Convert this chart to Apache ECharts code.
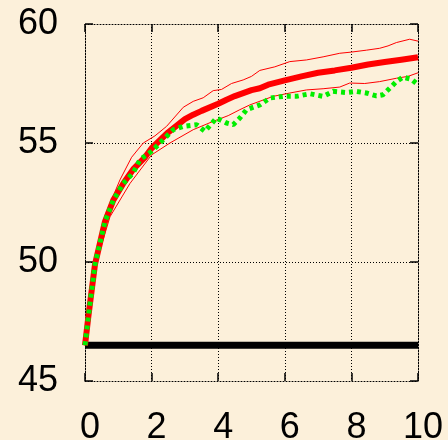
<!DOCTYPE html>
<html><head><meta charset="utf-8">
<script src="https://cdn.jsdelivr.net/npm/echarts@6/dist/echarts.min.js"></script>
<style>html,body{margin:0;padding:0;background:#FCF0DA;}#c{width:448px;height:440px;}</style>
</head><body><div id="c"></div>
<script>
var xTicks = [0, 2, 4, 6, 8, 10];
var yTicks = [45, 50, 55, 60];

var meanX = [0,0.1,0.2,0.3,0.45,0.6,0.85,1.15,1.45,1.8,2.0,2.5,3.0,3.25,3.5,4.0,4.25,4.5,5.0,5.25,5.5,6.0,6.5,7.0,7.5,8.0,8.5,9.0,9.5,10];
var meanY = [46.5,47.7,48.8,49.9,50.8,51.7,52.6,53.3,53.9,54.4,54.78,55.45,56.0,56.19,56.35,56.65,56.82,56.97,57.22,57.3,57.45,57.63,57.8,57.95,58.05,58.16,58.3,58.4,58.5,58.6];

var upperX = [0,0.3,0.6,1.05,1.4,1.75,2.1,2.45,2.95,3.25,3.55,3.85,4.1,4.4,4.75,5.0,5.25,5.7,6.15,6.65,7.15,7.65,8.0,8.45,8.85,9.1,9.35,9.75,10];
var upperY = [46.5,50.0,51.95,53.45,54.4,55.0,55.3,55.7,56.5,56.75,56.9,57.2,57.25,57.5,57.65,57.8,58.05,58.2,58.42,58.49,58.62,58.77,58.82,58.9,58.98,59.08,59.22,59.36,59.28];

var lowerX = [0,0.3,0.75,1.35,2.0,2.55,3.25,3.85,4.3,4.65,4.95,5.65,6.15,6.65,7.15,7.65,7.95,8.4,8.85,9.35,9.7,10];
var lowerY = [46.5,49.8,51.9,53.3,54.5,55.0,55.56,55.91,56.15,56.4,56.6,56.96,57.1,57.23,57.28,57.35,57.52,57.5,57.58,57.72,57.8,57.95];

var greenX = [0,0.1,0.2,0.3,0.45,0.6,0.85,1.15,1.45,1.65,2.0,2.25,2.65,2.95,3.35,3.6,3.95,4.25,4.45,4.65,4.85,5.25,5.55,5.95,6.35,6.75,7.15,7.45,7.85,8.15,8.45,8.75,8.95,9.15,9.35,9.55,9.8,10];
var greenY = [46.5,47.7,48.8,49.9,50.8,51.7,52.6,53.3,53.75,54.3,54.65,55.0,55.56,55.7,55.77,55.49,56.05,55.84,55.77,56.05,56.4,56.6,56.89,56.96,56.96,57.07,56.96,57.17,57.12,57.17,57.1,56.98,57.03,57.3,57.58,57.77,57.68,57.45];

var baseX = [0, 10];
var baseY = [46.5, 46.5];

function pairs(xs, ys){ return xs.map(function(x,i){ return [x, ys[i]]; }); }

function dotted(){ return {color:'#000', width:1, type:[1,2]}; }
function tick(){ return {show:true, inside:true, length:8, lineStyle:{color:'#000', width:1.5}}; }
var lblBase = {color:'#000', fontSize:36, fontFamily:'Liberation Sans, Arial, sans-serif'};

var chart = echarts.init(document.getElementById('c'), null, {renderer:'canvas'});
chart.setOption({
  backgroundColor:'#FCF0DA',
  animation:false,
  grid:{left:85, right:30, top:24, bottom:59, containLabel:false, outerBoundsMode:'none'},
  xAxis:[
    {type:'value', min:xTicks[0], max:xTicks[xTicks.length-1], interval:2, position:'bottom',
     axisLine:{onZero:false, lineStyle:dotted()}, axisTick:tick(),
     axisLabel:Object.assign({margin:29, padding:[0,0,0,10]}, lblBase),
     splitLine:{show:true, lineStyle:dotted()}},
    {type:'value', min:xTicks[0], max:xTicks[xTicks.length-1], interval:2, position:'top',
     axisLine:{onZero:false, lineStyle:dotted()}, axisTick:tick(), axisLabel:{show:false}, splitLine:{show:false}}
  ],
  yAxis:[
    {type:'value', min:yTicks[0], max:yTicks[yTicks.length-1], interval:5, position:'left',
     axisLine:{show:true, onZero:false, lineStyle:dotted()}, axisTick:tick(),
     axisLabel:Object.assign({margin:27}, lblBase),
     splitLine:{show:true, lineStyle:dotted()}},
    {type:'value', min:yTicks[0], max:yTicks[yTicks.length-1], interval:5, position:'right',
     axisLine:{show:true, onZero:false, lineStyle:dotted()}, axisTick:tick(), axisLabel:{show:false}, splitLine:{show:false}}
  ],
  series:[
    {type:'line', data:pairs(baseX, baseY), showSymbol:false, lineStyle:{color:'#000', width:7, cap:'butt'}, z:2},
    {type:'line', data:pairs(upperX, upperY), showSymbol:false, lineStyle:{color:'#FF0000', width:1}, z:3},
    {type:'line', data:pairs(lowerX, lowerY), showSymbol:false, lineStyle:{color:'#FF0000', width:1}, z:3},
    {type:'line', data:pairs(meanX, meanY), showSymbol:false, lineStyle:{color:'#FF0000', width:6}, z:4},
    {type:'line', data:pairs(greenX, greenY), showSymbol:false, lineStyle:{color:'#00EE00', width:5, type:[4,4], cap:'butt'}, z:5}
  ]
});
</script></body></html>
